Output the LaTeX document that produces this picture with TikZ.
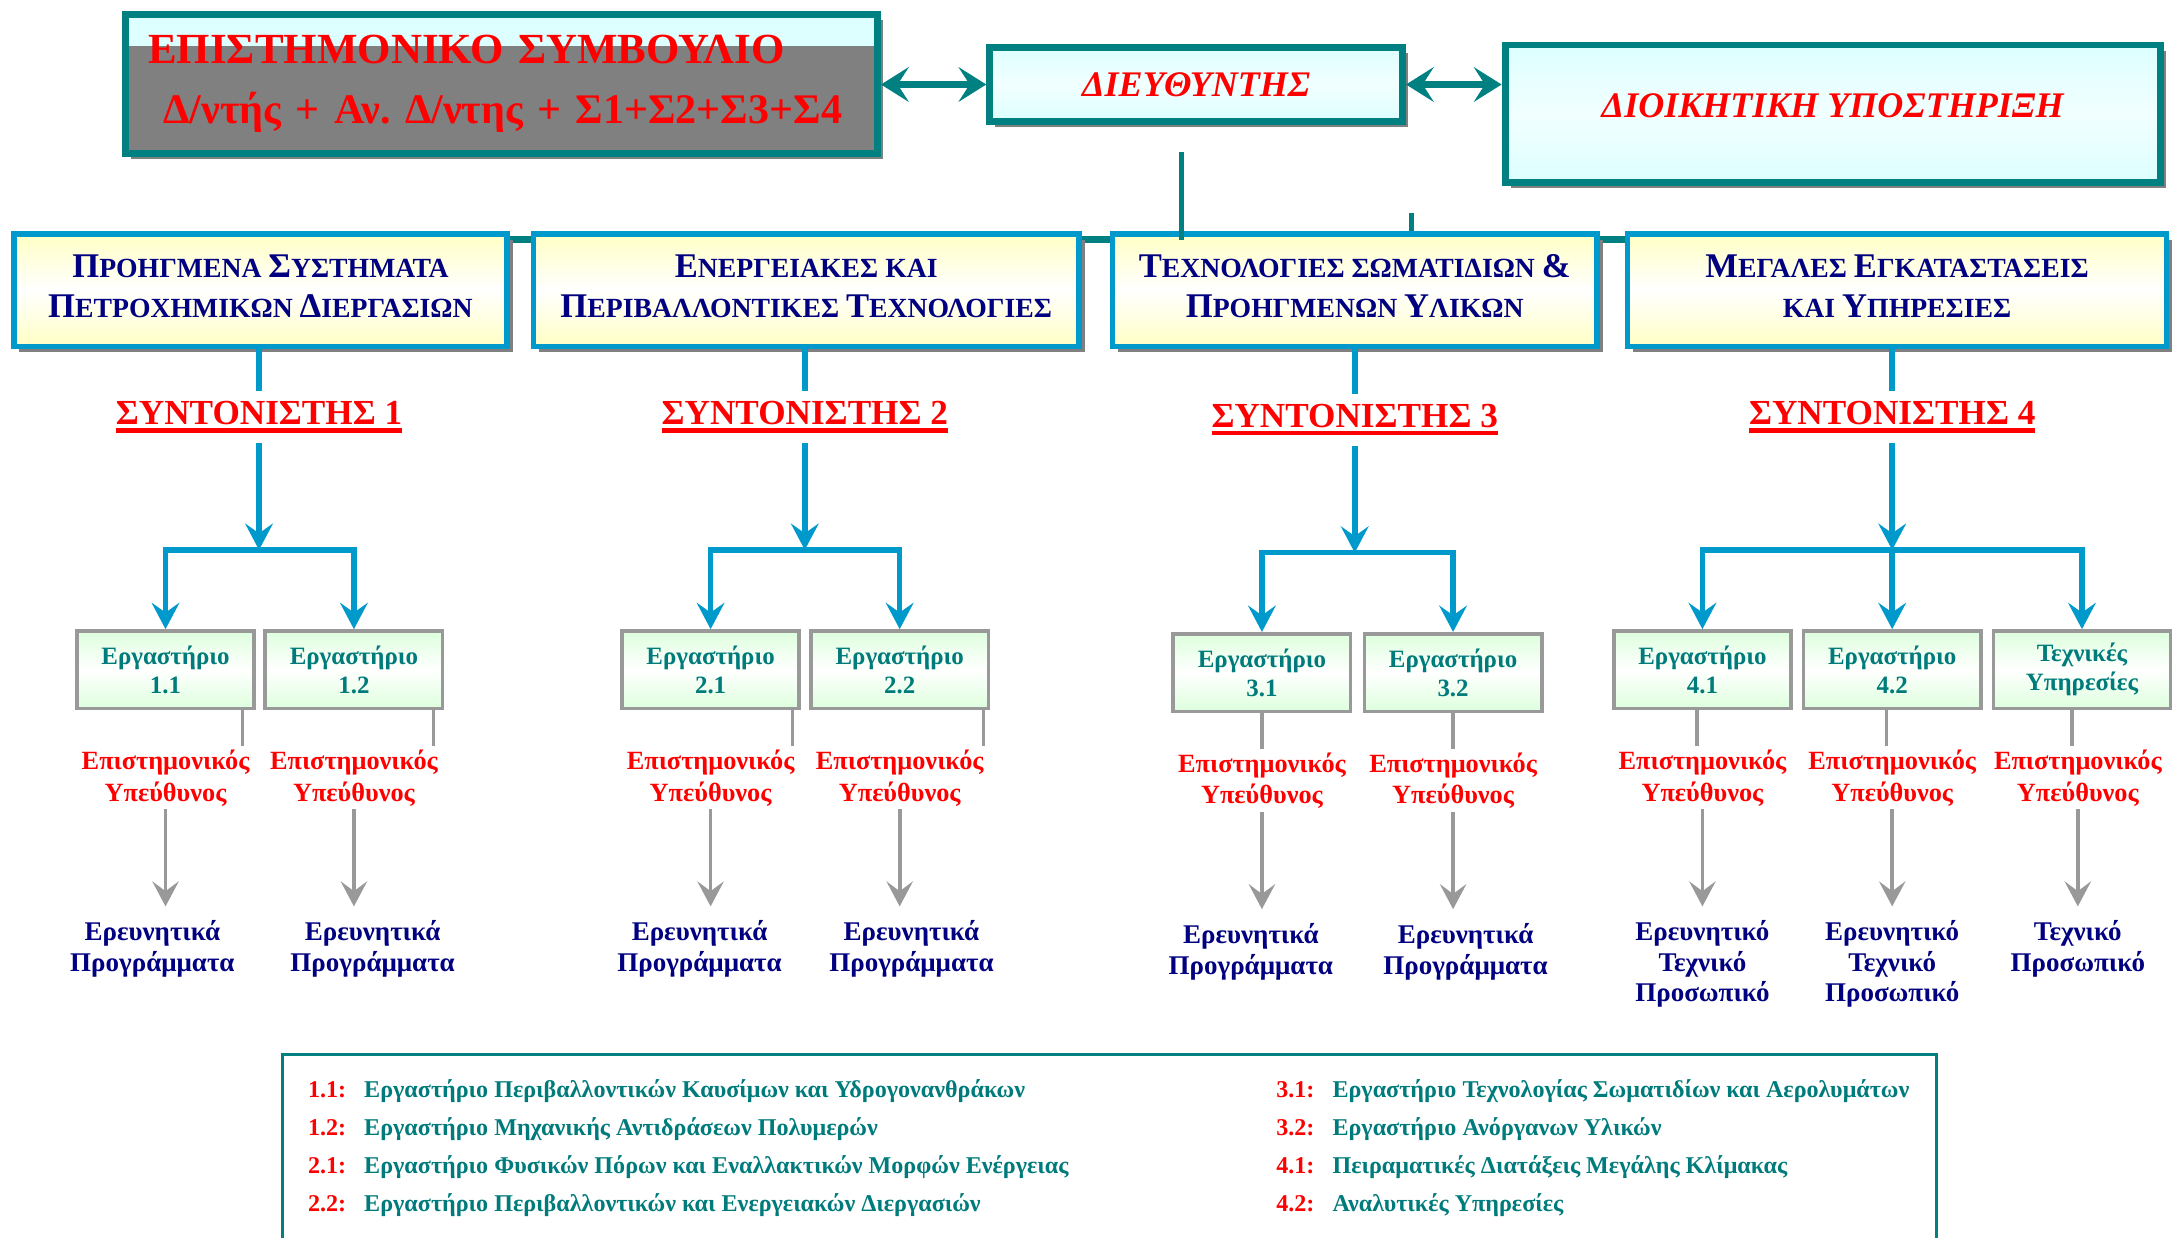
\documentclass[tikz,border=0pt]{standalone}
\usepackage{fontspec}
\setmainfont{Liberation Serif}
\usetikzlibrary{arrows.meta, positioning, shadows, backgrounds}
\frenchspacing

\definecolor{tealline}{HTML}{008080}
\definecolor{divblue}{HTML}{0099CC}
\definecolor{navytext}{HTML}{000080}
\definecolor{labteal}{HTML}{007B7B}
\definecolor{linegray}{HTML}{999999}
\definecolor{boardgray}{HTML}{808080}
\definecolor{paleCyan}{HTML}{DDFFFF}
\definecolor{paleYellow}{HTML}{FFFFC4}
\definecolor{paleGreen}{HTML}{DDFFDD}

\newcommand{\smcap}[2]{{\fontsize{12.5}{14.5}\selectfont #1}#2}
\newcommand{\ulred}[1]{\vtop{\hbox{#1}\kern1.2pt\hrule height 1.6pt}}

\tikzstyle{boxshadow} = [drop shadow={shadow xshift=2pt, shadow yshift=-2pt, fill=black!50, opacity=1}]
\tikzstyle{council} = [rectangle, draw=tealline, line width=2.5pt, fill=boardgray, boxshadow, minimum width=271.5pt, minimum height=50pt, text width=262pt, align=left, text=red, font=\bfseries\fontsize{15.5}{18.5}\selectfont, path picture={\fill[paleCyan] (path picture bounding box.north west) rectangle ([yshift=-11.25pt]path picture bounding box.north east);}]
\tikzstyle{headbox} = [rectangle, draw=tealline, line width=2.5pt, top color=paleCyan, bottom color=paleCyan, middle color=white!60!paleCyan, boxshadow, text=red, font=\bfseries\itshape\fontsize{13}{15}\selectfont]
\tikzstyle{division} = [rectangle, draw=divblue, line width=2pt, top color=paleYellow, bottom color=paleYellow, middle color=white, boxshadow, minimum height=40.5pt, text depth=3pt, align=center, text=navytext, font=\bfseries\fontsize{10}{14.5}\selectfont]
\tikzstyle{coordlabel} = [text=red, font=\bfseries\fontsize{12.7}{15}\selectfont, inner sep=3.5pt]
\tikzstyle{lab} = [rectangle, draw=linegray, line width=1.3pt, top color=paleGreen, bottom color=paleGreen, middle color=white, minimum width=64pt, minimum height=28pt, align=center, text=labteal, font=\bfseries\fontsize{9}{10.5}\selectfont, inner sep=1pt]
\tikzstyle{resp} = [align=center, text=red, font=\bfseries\fontsize{9.5}{11.5}\selectfont, inner sep=1pt]
\tikzstyle{prog} = [align=center, text=navytext, font=\bfseries\fontsize{9.75}{11}\selectfont, inner sep=1pt]
\tikzstyle{legend} = [align=left, inner sep=0pt, text=labteal, font=\bfseries\fontsize{8.7}{13.65}\selectfont]
\tikzstyle{tealconn} = [draw=tealline, line width=2pt]
\tikzstyle{duoarrow} = [draw=tealline, line width=2.2pt, {Stealth[length=10pt,width=12.5pt,inset=4pt]}-{Stealth[length=10pt,width=12.5pt,inset=4pt]}]
\tikzstyle{blueline} = [draw=divblue, line width=2pt]
\tikzstyle{bluearrow} = [blueline, -{Stealth[length=9.5pt,width=10pt,inset=3.5pt]}]
\tikzstyle{bluefork} = [blueline, {Stealth[length=9.5pt,width=10pt,inset=3.5pt]}-{Stealth[length=9.5pt,width=10pt,inset=3.5pt]}]
\tikzstyle{grayline} = [draw=linegray, line width=1.3pt]
\tikzstyle{grayarrow} = [grayline, -{Stealth[length=9pt,width=9.5pt,inset=3.5pt]}, shorten >=4pt]

\begin{document}
\begin{tikzpicture}[x=0.5pt, y=-0.5pt]
\useasboundingbox (0,0) rectangle (1568,894);

% top row
\node (board) [council] at (362,60.5) {\hspace*{3.5pt}ΕΠΙΣΤΗΜΟΝΙΚΟ ΣΥΜΒΟΥΛΙΟ\\[3pt]\hspace*{9pt}{\fontsize{15.2}{18.5}\selectfont Δ/ντής + Αν. Δ/ντης + Σ1+Σ2+Σ3+Σ4}};
\node (dir) [headbox, minimum width=149pt, minimum height=26.5pt] at (863.5,61) {ΔΙΕΥΘΥΝΤΗΣ};
\node (admin) [headbox, minimum width=236.5pt, minimum height=49.5pt, text depth=6pt] at (1323,82) {ΔΙΟΙΚΗΤΙΚΗ ΥΠΟΣΤΗΡΙΞΗ};

\draw [duoarrow] (board.east |- dir) -- (dir.west);
\draw [duoarrow] (dir.east) -- (dir.east -| admin.west);

% divisions
\node (div1) [division, minimum width=178pt] at (188,209.5) {\smcap{Π}{ΡΟΗΓΜΕΝΑ} \smcap{Σ}{ΥΣΤΗΜΑΤΑ}\\\smcap{Π}{ΕΤΡΟΧΗΜΙΚΩΝ} \smcap{Δ}{ΙΕΡΓΑΣΙΩΝ}};
\node (div2) [division, minimum width=197pt] at (582,209.5) {\smcap{Ε}{ΝΕΡΓΕΙΑΚΕΣ} ΚΑΙ\\\smcap{Π}{ΕΡΙΒΑΛΛΟΝΤΙΚΕΣ} \smcap{Τ}{ΕΧΝΟΛΟΓΙΕΣ}};
\node (div3) [division, minimum width=175pt] at (978,209.5) {\smcap{Τ}{ΕΧΝΟΛΟΓΙΕΣ} ΣΩΜΑΤΙΔΙΩΝ \smcap{\&}{}\\\smcap{Π}{ΡΟΗΓΜΕΝΩΝ} \smcap{Υ}{ΛΙΚΩΝ}};
\node (div4) [division, minimum width=194.5pt] at (1369.5,209.5) {\smcap{Μ}{ΕΓΑΛΕΣ} \smcap{Ε}{ΓΚΑΤΑΣΤΑΣΕΙΣ}\\ΚΑΙ \smcap{Υ}{ΠΗΡΕΣΙΕΣ}};

\begin{scope}[on background layer]
\draw [tealconn, line width=2.75pt] ([yshift=-3pt]div1.north east) -- ([yshift=-3pt]div4.north west);
\end{scope}
\coordinate (bandtop) at ([yshift=-3pt]div3.north);
\coordinate (dirdrop) at (853,110);
\coordinate (stub) at (1019,154);
\draw [tealconn] (dirdrop) -- (dirdrop |- bandtop);
\draw [tealconn] (stub) -- (stub |- div3.north);

% coordinators
\node (co1) [coordlabel] at (187,301) {\ulred{ΣΥΝΤΟΝΙΣΤΗΣ 1}};
\node (co2) [coordlabel] at (581,301) {\ulred{ΣΥΝΤΟΝΙΣΤΗΣ 2}};
\node (co3) [coordlabel] at (978,303) {\ulred{ΣΥΝΤΟΝΙΣΤΗΣ 3}};
\node (co4) [coordlabel] at (1366,301) {\ulred{ΣΥΝΤΟΝΙΣΤΗΣ 4}};

\draw [blueline] (co1 |- div1.south) -- (co1.north);
\draw [blueline] (co2 |- div2.south) -- (co2.north);
\draw [blueline] (co3 |- div3.south) -- (co3.north);
\draw [blueline] (co4 |- div4.south) -- (co4.north);

\coordinate (sp1) at (187,397);
\coordinate (sp2) at (581,397);
\coordinate (sp3) at (978,399);
\coordinate (sp4) at (1366,397);

\draw [bluearrow] (co1.south) -- (sp1);
\draw [bluearrow] (co2.south) -- (sp2);
\draw [bluearrow] (co3.south) -- (sp3);
\draw [bluearrow] (co4.south) -- (sp4);

% laboratories
\node (lab11) [lab] at (119.5,483.5) {Εργαστήριο\\1.1};
\node (lab12) [lab] at (255.5,483.5) {Εργαστήριο\\1.2};
\node (lab21) [lab] at (513,483.5) {Εργαστήριο\\2.1};
\node (lab22) [lab] at (649.5,483.5) {Εργαστήριο\\2.2};
\node (lab31) [lab] at (911,485.5) {Εργαστήριο\\3.1};
\node (lab32) [lab] at (1049,485.5) {Εργαστήριο\\3.2};
\node (lab41) [lab] at (1229,483.5) {Εργαστήριο\\4.1};
\node (lab42) [lab] at (1366,483.5) {Εργαστήριο\\4.2};
\node (lab43) [lab] at (1503,483.5) {Τεχνικές\\Υπηρεσίες};

\draw [bluefork] (lab11.north) -- (lab11.north |- sp1) -- (lab12.north |- sp1) -- (lab12.north);
\draw [bluefork] (lab21.north) -- (lab21.north |- sp2) -- (lab22.north |- sp2) -- (lab22.north);
\draw [bluefork] (lab31.north) -- (lab31.north |- sp3) -- (lab32.north |- sp3) -- (lab32.north);
\draw [bluefork] (lab41.north) -- (lab41.north |- sp4) -- (lab43.north |- sp4) -- (lab43.north);
\draw [bluearrow] (sp4) -- (lab42.north);

% scientific heads
\node (resp11) [resp, below=13pt of lab11] {Επιστημονικός\\Υπεύθυνος};
\node (resp12) [resp, below=13pt of lab12] {Επιστημονικός\\Υπεύθυνος};
\node (resp21) [resp, below=13pt of lab21] {Επιστημονικός\\Υπεύθυνος};
\node (resp22) [resp, below=13pt of lab22] {Επιστημονικός\\Υπεύθυνος};
\node (resp31) [resp, below=13pt of lab31] {Επιστημονικός\\Υπεύθυνος};
\node (resp32) [resp, below=13pt of lab32] {Επιστημονικός\\Υπεύθυνος};
\node (resp41) [resp, below=13pt of lab41] {Επιστημονικός\\Υπεύθυνος};
\node (resp42) [resp, below=13pt of lab42] {Επιστημονικός\\Υπεύθυνος};
\node (resp43) [resp, below=13pt of lab43, xshift=-1.5pt] {Επιστημονικός\\Υπεύθυνος};

\draw [grayline] ([xshift=27.75pt]lab11.south) -- ([xshift=27.75pt]lab11.south |- resp11.north);
\draw [grayline] ([xshift=28.75pt]lab12.south) -- ([xshift=28.75pt]lab12.south |- resp12.north);
\draw [grayline] ([xshift=29.5pt]lab21.south) -- ([xshift=29.5pt]lab21.south |- resp21.north);
\draw [grayline] ([xshift=30.25pt]lab22.south) -- ([xshift=30.25pt]lab22.south |- resp22.north);
\draw [grayline] (lab31.south) -- (resp31.north);
\draw [grayline] (lab32.south) -- (resp32.north);
\draw [grayline] ([xshift=-2pt]lab41.south) -- ([xshift=-2pt]lab41.south |- resp41.north);
\draw [grayline] ([xshift=-2pt]lab42.south) -- ([xshift=-2pt]lab42.south |- resp42.north);
\draw [grayline] ([xshift=-3.5pt]lab43.south) -- ([xshift=-3.5pt]lab43.south |- resp43.north);

% staff and programmes
\node (prog11) [prog, below=39pt of resp11, xshift=-4.75pt] {Ερευνητικά\\Προγράμματα};
\node (prog12) [prog, below=39pt of resp12, xshift=6.75pt] {Ερευνητικά\\Προγράμματα};
\node (prog21) [prog, below=39pt of resp21, xshift=-4pt] {Ερευνητικά\\Προγράμματα};
\node (prog22) [prog, below=39pt of resp22, xshift=4.25pt] {Ερευνητικά\\Προγράμματα};
\node (prog31) [prog, below=39pt of resp31, xshift=-4pt] {Ερευνητικά\\Προγράμματα};
\node (prog32) [prog, below=39pt of resp32, xshift=4.5pt] {Ερευνητικά\\Προγράμματα};
\node (prog41) [prog, below=39pt of resp41] {Ερευνητικό\\Τεχνικό\\Προσωπικό};
\node (prog42) [prog, below=39pt of resp42] {Ερευνητικό\\Τεχνικό\\Προσωπικό};
\node (prog43) [prog, below=39pt of resp43] {Τεχνικό\\Προσωπικό};

\draw [grayarrow] (resp11.south) -- (resp11.south |- prog11.north);
\draw [grayarrow] (resp12.south) -- (resp12.south |- prog12.north);
\draw [grayarrow] (resp21.south) -- (resp21.south |- prog21.north);
\draw [grayarrow] (resp22.south) -- (resp22.south |- prog22.north);
\draw [grayarrow] (resp31.south) -- (resp31.south |- prog31.north);
\draw [grayarrow] (resp32.south) -- (resp32.south |- prog32.north);
\draw [grayarrow] (resp41.south) -- (resp41.south |- prog41.north);
\draw [grayarrow] (resp42.south) -- (resp42.south |- prog42.north);
\draw [grayarrow] (resp43.south) -- (resp43.south |- prog43.north);

% legend
\draw [draw=tealline, line width=1pt] (204,894) -- (204,761) -- (1398,761) -- (1398,894);
\node (legL) [legend, anchor=north west] at (222,779) {\textcolor{red}{1.1:}\hspace{6.5pt}Εργαστήριο Περιβαλλοντικών Καυσίμων και Υδρογονανθράκων\\
\textcolor{red}{1.2:}\hspace{6.5pt}Εργαστήριο Μηχανικής Αντιδράσεων Πολυμερών\\
\textcolor{red}{2.1:}\hspace{6.5pt}Εργαστήριο Φυσικών Πόρων και Εναλλακτικών Μορφών Ενέργειας\\
\textcolor{red}{2.2:}\hspace{6.5pt}Εργαστήριο Περιβαλλοντικών και Ενεργειακών Διεργασιών};
\node (legR) [legend, anchor=north west] at (921,779) {\textcolor{red}{3.1:}\hspace{6.5pt}Εργαστήριο Τεχνολογίας Σωματιδίων και Αερολυμάτων\\
\textcolor{red}{3.2:}\hspace{6.5pt}Εργαστήριο Ανόργανων Υλικών\\
\textcolor{red}{4.1:}\hspace{6.5pt}Πειραματικές Διατάξεις Μεγάλης Κλίμακας\\
\textcolor{red}{4.2:}\hspace{6.5pt}Αναλυτικές Υπηρεσίες};

\end{tikzpicture}
\end{document}
